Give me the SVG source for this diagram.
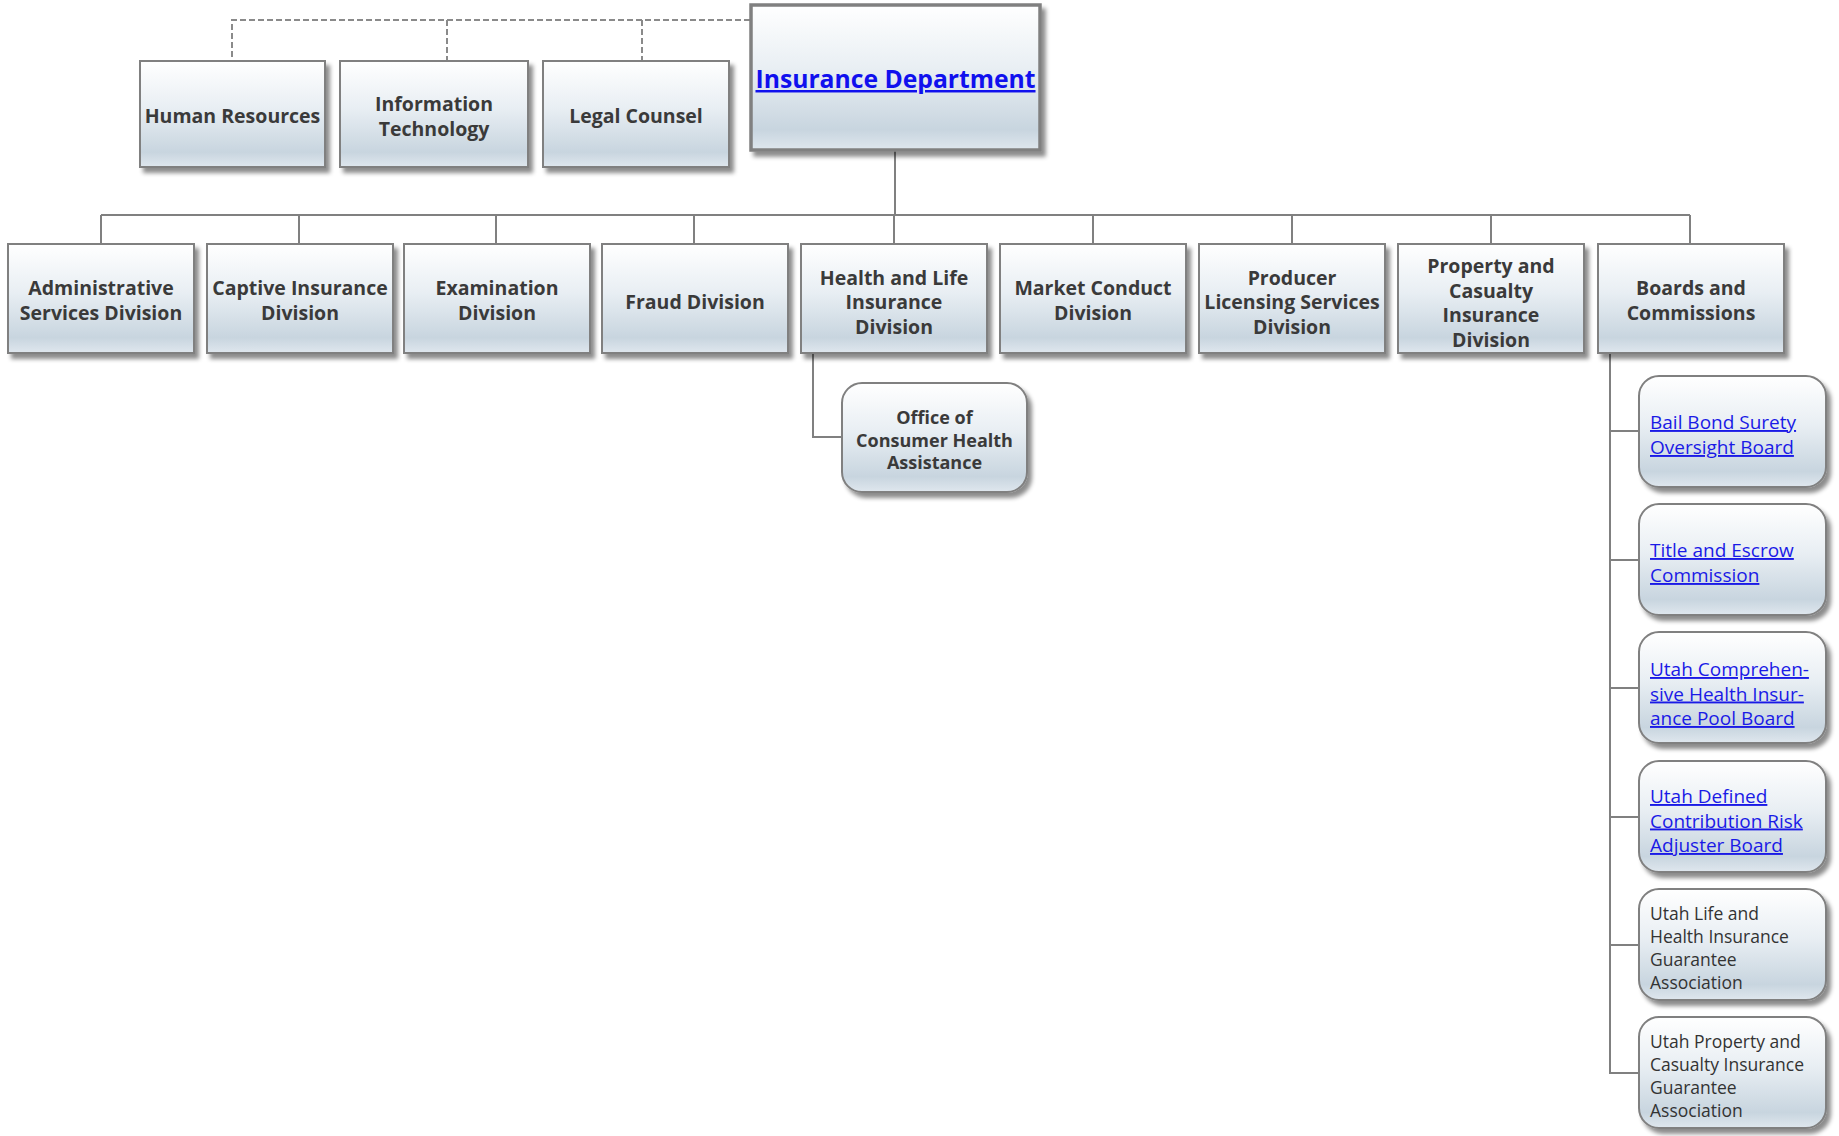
<svg xmlns="http://www.w3.org/2000/svg" width="1839" height="1136" viewBox="0 0 1839 1136">
<defs>
<linearGradient id="g" x1="0" y1="0" x2="0" y2="1">
<stop offset="0" stop-color="#ffffff"/>
<stop offset="0.45" stop-color="#e8eef3"/>
<stop offset="0.86" stop-color="#c8d5df"/>
<stop offset="1" stop-color="#dfe7ee"/>
</linearGradient>
<filter id="sh" x="-10%" y="-10%" width="125%" height="130%">
<feDropShadow dx="4" dy="5" stdDeviation="2.2" flood-color="#000" flood-opacity="0.45"/>
</filter>
</defs>
<style>
.box{fill:url(#g);stroke:#808080;stroke-width:2;filter:url(#sh)}
.main{stroke-width:3.5}
.b{font-family:"Open Sans","Noto Sans",sans-serif;font-weight:bold;font-size:19.5px;fill:#3a3a3a;text-anchor:middle}
.s{font-size:18px}
.lk{font-family:"Open Sans","Noto Sans",sans-serif;font-size:19px;fill:#1a1ae6;text-decoration:underline}
.tx{font-family:"Open Sans","Noto Sans",sans-serif;font-size:17.5px;fill:#333333}
.c{fill:none;stroke:#808080;stroke-width:2}
.d{fill:none;stroke:#8a8a8a;stroke-width:2;stroke-dasharray:6 3}
</style>
<g id="connectors">
<path class="d" d="M750,20 H232 V61 M447,20 V61 M642,20 V61"/>
<path class="c" d="M895,150 V215 M101,215 H1690 M101,215 V244 M299,215 V244 M496,215 V244 M694,215 V244 M894,215 V244 M1093,215 V244 M1292,215 V244 M1491,215 V244 M1690,215 V244"/>
<path class="c" d="M813,353 V437 H842"/>
<path class="c" d="M1610,353 V1073 H1639 M1610,431 H1639 M1610,560 H1639 M1610,688 H1639 M1610,817 H1639 M1610,945 H1639"/>
</g>
<g id="n-hr"><rect class="box" x="140" y="61" width="185" height="106"/><text class="b" x="232.5" y="123">Human Resources</text></g>
<g id="n-it"><rect class="box" x="340" y="61" width="188" height="106"/><text class="b" x="434" y="111">Information</text><text class="b" x="434" y="136">Technology</text></g>
<g id="n-lc"><rect class="box" x="543" y="61" width="186" height="106"/><text class="b" x="636" y="123">Legal Counsel</text></g>
<g id="n-id"><rect class="box main" x="751" y="5" width="289" height="145"/><text class="b" x="895.5" y="88" style="font-size:24.7px;fill:#1010ee;text-decoration:underline">Insurance Department</text></g>
<g id="n-admin"><rect class="box" x="8" y="244" width="186" height="109"/><text class="b" x="101" y="295">Administrative</text><text class="b" x="101" y="320">Services Division</text></g>
<g id="n-captive"><rect class="box" x="207" y="244" width="186" height="109"/><text class="b" x="300" y="295">Captive Insurance</text><text class="b" x="300" y="320">Division</text></g>
<g id="n-exam"><rect class="box" x="404" y="244" width="186" height="109"/><text class="b" x="497" y="295">Examination</text><text class="b" x="497" y="320">Division</text></g>
<g id="n-fraud"><rect class="box" x="602" y="244" width="186" height="109"/><text class="b" x="695" y="308.5">Fraud Division</text></g>
<g id="n-health"><rect class="box" x="801" y="244" width="186" height="109"/><text class="b" x="894" y="285">Health and Life</text><text class="b" x="894" y="309">Insurance</text><text class="b" x="894" y="334">Division</text></g>
<g id="n-market"><rect class="box" x="1000" y="244" width="186" height="109"/><text class="b" x="1093" y="295">Market Conduct</text><text class="b" x="1093" y="320">Division</text></g>
<g id="n-producer"><rect class="box" x="1199" y="244" width="186" height="109"/><text class="b" x="1292" y="285">Producer</text><text class="b" x="1292" y="309">Licensing Services</text><text class="b" x="1292" y="334">Division</text></g>
<g id="n-property"><rect class="box" x="1398" y="244" width="186" height="109"/><text class="b" x="1491" y="273">Property and</text><text class="b" x="1491" y="298">Casualty</text><text class="b" x="1491" y="322">Insurance</text><text class="b" x="1491" y="347">Division</text></g>
<g id="n-boards"><rect class="box" x="1598" y="244" width="186" height="109"/><text class="b" x="1691" y="295">Boards and</text><text class="b" x="1691" y="320">Commissions</text></g>
<g id="n-office"><rect class="box" x="842" y="383" width="185" height="109" rx="20"/><text class="b s" x="934.5" y="424">Office of</text><text class="b s" x="934.5" y="446.5">Consumer Health</text><text class="b s" x="934.5" y="469">Assistance</text></g>
<g id="n-bail"><rect class="box" x="1639" y="376" width="187" height="111" rx="20"/><text class="lk" x="1650" y="429">Bail Bond Surety</text><text class="lk" x="1650" y="454">Oversight Board</text></g>
<g id="n-title"><rect class="box" x="1639" y="504" width="187" height="111" rx="20"/><text class="lk" x="1650" y="557">Title and Escrow</text><text class="lk" x="1650" y="582">Commission</text></g>
<g id="n-uchip"><rect class="box" x="1639" y="632" width="187" height="111" rx="20"/><text class="lk" x="1650" y="676">Utah Comprehen-</text><text class="lk" x="1650" y="700.5">sive Health Insur-</text><text class="lk" x="1650" y="725">ance Pool Board</text></g>
<g id="n-udcra"><rect class="box" x="1639" y="761" width="187" height="111" rx="20"/><text class="lk" x="1650" y="803">Utah Defined</text><text class="lk" x="1650" y="827.5">Contribution Risk</text><text class="lk" x="1650" y="852">Adjuster Board</text></g>
<g id="n-ulh"><rect class="box" x="1639" y="889" width="187" height="111" rx="20"/><text class="tx" x="1650" y="920">Utah Life and</text><text class="tx" x="1650" y="943">Health Insurance</text><text class="tx" x="1650" y="966">Guarantee</text><text class="tx" x="1650" y="989">Association</text></g>
<g id="n-upc"><rect class="box" x="1639" y="1017" width="187" height="111" rx="20"/><text class="tx" x="1650" y="1048">Utah Property and</text><text class="tx" x="1650" y="1071">Casualty Insurance</text><text class="tx" x="1650" y="1094">Guarantee</text><text class="tx" x="1650" y="1117">Association</text></g>
</svg>
